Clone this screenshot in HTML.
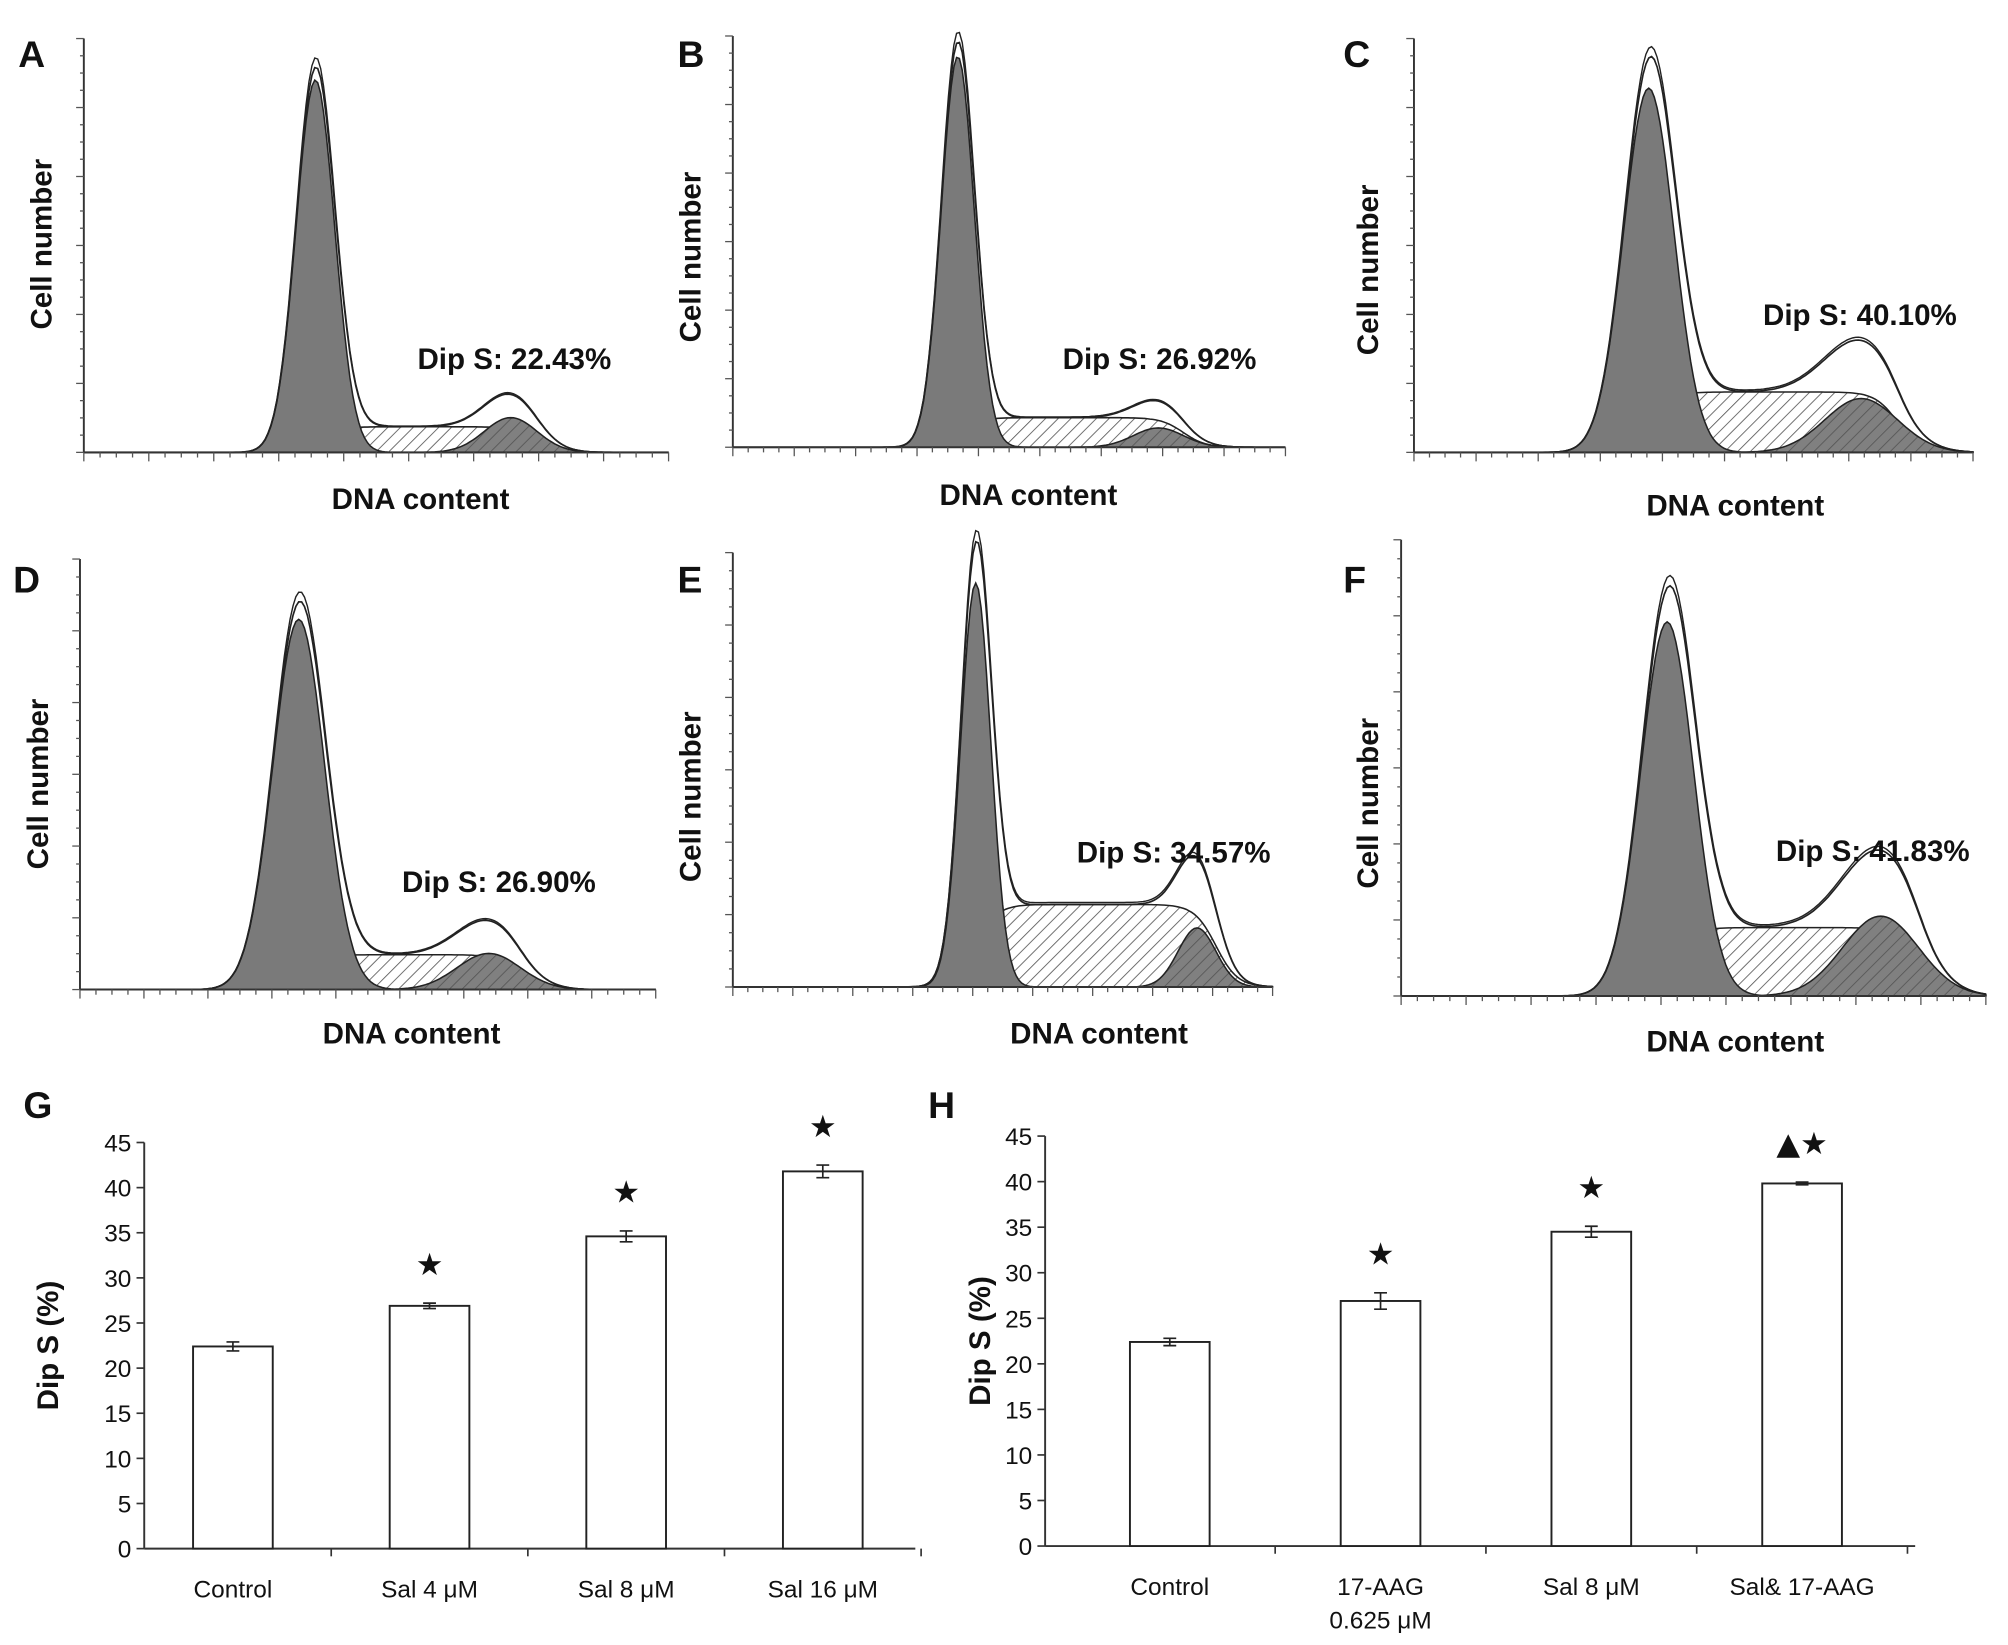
<!DOCTYPE html>
<html><head><meta charset="utf-8">
<style>
html,body{margin:0;padding:0;background:#fff;}
svg{display:block;font-family:"Liberation Sans",Arial,sans-serif;}
</style></head>
<body>
<svg id="fig" width="2008" height="1645" viewBox="0 0 1562 1280" xmlns="http://www.w3.org/2000/svg">
<defs>
<pattern id="hatch" patternUnits="userSpaceOnUse" width="7" height="7" patternTransform="rotate(45)">
<rect width="7" height="7" fill="#fff"/>
<line x1="0" y1="0" x2="0" y2="7" stroke="#555" stroke-width="1.3"/>
</pattern>
<pattern id="hatchDark" patternUnits="userSpaceOnUse" width="7" height="7" patternTransform="rotate(45)">
<rect width="7" height="7" fill="#808080"/>
<line x1="0" y1="0" x2="0" y2="7" stroke="#555" stroke-width="1.3"/>
</pattern>
</defs>
</svg>
<script>
// ---- histogram panel data ----
var panelLetters = ["A","B","C","D","E","F"];
var dipLabels = ["Dip S: 22.43%","Dip S: 26.92%","Dip S: 40.10%","Dip S: 26.90%","Dip S: 34.57%","Dip S: 41.83%"];
var g1Heights = [0.90, 0.95, 0.88, 0.86, 0.93, 0.82];
var sLevels = [0.062, 0.072, 0.146, 0.081, 0.19, 0.15];
var g2Heights = [0.084, 0.047, 0.13, 0.084, 0.136, 0.175];
var g1Pos = [0.396, 0.407, 0.42, 0.38, 0.45, 0.455];
var g2Pos = [0.73, 0.77, 0.80, 0.71, 0.86, 0.82];

// ---- bar chart data ----
var gCats = ["Control","Sal 4 μM","Sal 8 μM","Sal 16 μM"];
var gVals = [22.4, 26.9, 34.6, 41.8];
var gErrs = [0.5, 0.3, 0.6, 0.7];
var gMarks = ["","★","★","★"];
var hCats = ["Control","17-AAG|0.625 μM","Sal 8 μM","Sal& 17-AAG"];
var hVals = [22.4, 26.9, 34.5, 39.8];
var hErrs = [0.4, 0.9, 0.6, 0.15];
var hMarks = ["","★","★","▲★"];
var yTicks = [0,5,10,15,20,25,30,35,40,45];

var NS="http://www.w3.org/2000/svg";
var svg=document.getElementById('fig');
function mk(tag,attrs,parent){var e=document.createElementNS(NS,tag);for(var k in attrs)e.setAttribute(k,attrs[k]);(parent||svg).appendChild(e);return e;}

var layouts=[
 {x0:65,x1:520,top:30,base:352,lx:14,ly:28,yl:40,ylc:190,dx:400,dy:287,ax:327,ay:396,g1s:0.033,g2s:0.045},
 {x0:570,x1:1000,top:28,base:348,lx:527,ly:28,yl:545,ylc:200,dx:902,dy:287,ax:800,ay:393,g1s:0.030,g2s:0.045},
 {x0:1100,x1:1535,top:30,base:352,lx:1045,ly:28,yl:1072,ylc:210,dx:1447,dy:253,ax:1350,ay:401,g1s:0.045,g2s:0.065},
 {x0:62,x1:510,top:435,base:770,lx:10,ly:437,yl:37,ylc:610,dx:388,dy:694,ax:320,ay:812,g1s:0.045,g2s:0.055},
 {x0:570,x1:990,top:430,base:768,lx:527,ly:437,yl:545,ylc:620,dx:913,dy:671,ax:855,ay:812,g1s:0.028,g2s:0.035},
 {x0:1090,x1:1545,top:420,base:775,lx:1045,ly:437,yl:1072,ylc:625,dx:1457,dy:670,ax:1350,ay:818,g1s:0.045,g2s:0.065}
];
function sig(t){return 1/(1+Math.exp(-t));}
function gauss(x,c,s){return Math.exp(-0.5*Math.pow((x-c)/s,2));}

for(var p=0;p<6;p++){
 var L=layouts[p], W=L.x1-L.x0, H=L.base-L.top;
 var g=mk('g',{});
 
 
 var X=function(f){return L.x0+f*W;}, Y=function(v){return L.base-v*H;};
 var N=200, g1=[],sp=[],g2=[],tot=[];
 for(var i=0;i<=N;i++){
  var f=i/N;
  var a=g1Heights[p]*gauss(f,g1Pos[p],L.g1s);
  var b=sLevels[p]*sig((f-g1Pos[p])/0.02)*sig((g2Pos[p]+L.g2s-f)/0.02);
  var c=g2Heights[p]*gauss(f,g2Pos[p],L.g2s);
  g1.push(a);sp.push(b);g2.push(c);tot.push(a+b+c);
 }
 function area(arr){var d='M'+X(0)+','+L.base;for(var i=0;i<=N;i++)d+=' L'+X(i/N).toFixed(1)+','+Y(arr[i]).toFixed(1);return d+' L'+X(1)+','+L.base+'Z';}
 function line(arr,k){var d='';for(var i=0;i<=N;i++)d+=(i?' L':'M')+X(i/N).toFixed(1)+','+Y(arr[i]*k).toFixed(1);return d;}
 var e;
 e=mk('path',{d:area(sp),fill:'url(#hatch)',stroke:'#222','stroke-width':1.2},g);
 
 
 e=mk('path',{d:area(g2),fill:'url(#hatchDark)',stroke:'#222','stroke-width':1.2},g);
 
 
 e=mk('path',{d:area(g1),fill:'#7a7a7a',stroke:'#222','stroke-width':1.2},g);
 
 
 e=mk('path',{d:line(tot,1),fill:'none',stroke:'#222','stroke-width':1.3},g);
 
 
 e=mk('path',{d:line(tot,1.025),fill:'none',stroke:'#222','stroke-width':1.1},g);
 
 
 mk('line',{x1:L.x0,y1:L.top,x2:L.x0,y2:L.base,stroke:'#333','stroke-width':1.5},g);
 mk('line',{x1:L.x0,y1:L.base,x2:L.x1,y2:L.base,stroke:'#333','stroke-width':1.5},g);
 for(var t=0;t<=24;t++){var yy=L.base-t*H/24;mk('line',{x1:L.x0-(t%4?3:6),y1:yy,x2:L.x0,y2:yy,stroke:'#555','stroke-width':1},g);}
 for(var t=0;t<=36;t++){var xx=L.x0+t*W/36;mk('line',{x1:xx,y1:L.base,x2:xx,y2:L.base+(t%4?4:7),stroke:'#555','stroke-width':1},g);}
 e=mk('text',{x:L.lx,y:L.ly+24,'font-size':29,'font-weight':'bold',fill:'#111'},g);e.textContent=panelLetters[p];
 
 
 e=mk('text',{x:0,y:0,'font-size':23,'font-weight':'bold','text-anchor':'middle',transform:'translate('+L.yl+','+L.ylc+') rotate(-90)',fill:'#111'},g);e.textContent='Cell number';
 
 
 e=mk('text',{x:L.ax,y:L.ay,'font-size':23,'font-weight':'bold','text-anchor':'middle',fill:'#111'},g);e.textContent='DNA content';
 
 
 e=mk('text',{x:L.dx,y:L.dy,'font-size':23,'font-weight':'bold','text-anchor':'middle',fill:'#111'},g);e.textContent=dipLabels[p];
 
 
}

function barChart(o,cats,vals,errs,marks,letter){
 var g=mk('g',{});
 
 
 var Y=function(v){return o.y0-(o.y0-o.y45)*v/45;};
 var e=mk('text',{x:o.lx,y:o.ly,'font-size':29,'font-weight':'bold',fill:'#111'},g);e.textContent=letter;
 
 
 mk('line',{x1:o.ax,y1:Y(45),x2:o.ax,y2:Y(0),stroke:'#333','stroke-width':1.5},g);
 mk('line',{x1:o.ax,y1:Y(0),x2:o.xe,y2:Y(0),stroke:'#333','stroke-width':1.5},g);
 yTicks.forEach(function(t){
  mk('line',{x1:o.ax-6,y1:Y(t),x2:o.ax,y2:Y(t),stroke:'#333','stroke-width':1.3},g);
  var tx=mk('text',{x:o.ax-10,y:Y(t)+7,'font-size':19,'text-anchor':'end',fill:'#111'},g);tx.textContent=t;
  
  
 });
 for(var k=1;k<=cats.length;k++){var sx=o.c0+(k-0.5)*o.step;mk('line',{x1:sx,y1:Y(0),x2:sx,y2:Y(0)+6,stroke:'#333','stroke-width':1.3},g);}
 e=mk('text',{x:0,y:0,'font-size':23,'font-weight':'bold','text-anchor':'middle',transform:'translate('+o.tx+','+((Y(0)+Y(45))/2)+') rotate(-90)',fill:'#111'},g);e.textContent='Dip S (%)';
 
 
 cats.forEach(function(c,i){
  var cx=o.c0+i*o.step, bw=62;
  var r=mk('rect',{x:cx-bw/2,y:Y(vals[i]),width:bw,height:Y(0)-Y(vals[i]),fill:'#fff',stroke:'#222','stroke-width':1.5},g);
  
  
  var eb=mk('path',{d:'M'+cx+','+Y(vals[i]+errs[i])+' V'+Y(vals[i]-errs[i])+' M'+(cx-5)+','+Y(vals[i]+errs[i])+' h10 M'+(cx-5)+','+Y(vals[i]-errs[i])+' h10',stroke:'#222','stroke-width':1.3,fill:'none'},g);
  
  
  if(marks[i]){var m=mk('text',{x:cx,y:Y(vals[i]+errs[i])-22,'font-size':24,'text-anchor':'middle',fill:'#111','font-family':'DejaVu Sans'},g);m.textContent=marks[i];
   
   }
  c.split('|').forEach(function(s,j){
   var t=mk('text',{x:cx,y:Y(0)+38+j*26,'font-size':19,'text-anchor':'middle',fill:'#111'},g);t.textContent=s;
   
   
  });
 });
}
barChart({ax:112,xe:712,c0:181,step:153,y0:1205,y45:889,lx:18,ly:870,tx:45},gCats,gVals,gErrs,gMarks,'G');
barChart({ax:813,xe:1490,c0:910,step:164,y0:1203,y45:884,lx:722,ly:870,tx:770},hCats,hVals,hErrs,hMarks,'H');
</script>
</body></html>
